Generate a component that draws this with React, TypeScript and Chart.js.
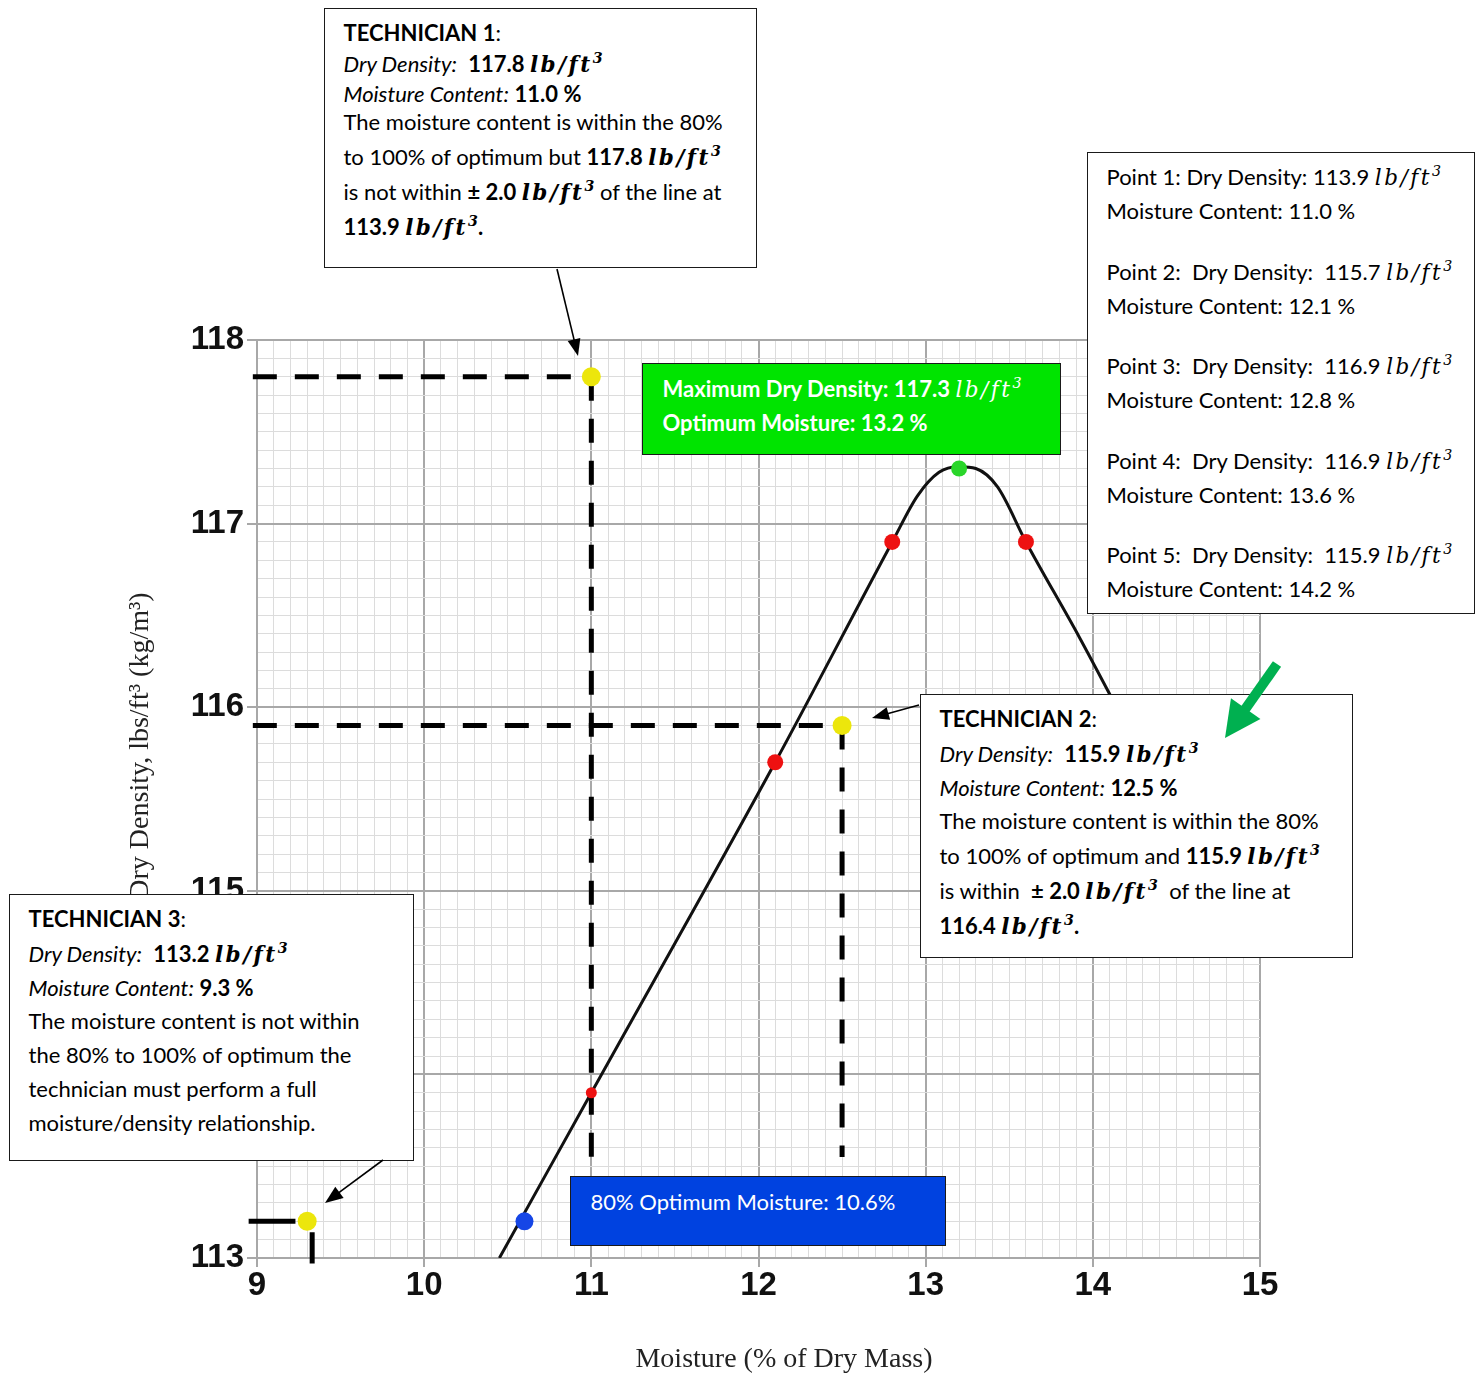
import React, { useEffect, useRef } from 'react';
import { Chart, registerables } from 'chart.js';

Chart.register(...registerables);

// ---------- data ----------
const xMin = 9;
const xMax = 15;
const yMin = 113;
const yMax = 118;

// compaction curve (moisture %, dry density lb/ft3)
const curveMoisture = [10.45, 11.0, 12.1, 12.8, 12.95, 13.08, 13.2, 13.3, 13.43, 13.6, 13.92, 14.2];
const curveDensity = [113.0, 113.9, 115.7, 116.9, 117.15, 117.28, 117.31, 117.3, 117.2, 116.9, 116.38, 115.9];

// proctor points 1..5
const pointMoisture = [11.0, 12.1, 12.8, 13.6, 14.2];
const pointDensity = [113.9, 115.7, 116.9, 116.9, 115.9];

// optimum
const optimumMoisture = [13.2];
const optimumDensity = [117.3];

// 80% of optimum moisture
const eightyMoisture = [10.6];
const eightyDensity = [113.2];

// technicians 1..3
const techMoisture = [11.0, 12.5, 9.3];
const techDensity = [117.8, 115.9, 113.2];

// where the dashed reference lines end
const guideBottom = 113.55;

const isMajor = (v: any) => typeof v === 'number' && Math.abs(v - Math.round(v)) < 1e-6;

const FONT_BODY = 'Lato, "Open Sans", sans-serif';
const FONT_MATH = '"DejaVu Serif", "Liberation Serif", serif';

const Sup = ({ children }: any) => (
  <span style={{ fontSize: '0.66em', verticalAlign: '0.62em', lineHeight: 0, letterSpacing: 0 }}>{children}</span>
);
const Unit = ({ b }: { b?: boolean }) => (
  <span style={{ fontFamily: FONT_MATH, fontStyle: 'italic', fontWeight: b ? 700 : 400, letterSpacing: '2.5px', fontSize: '0.98em' }}>
    lb/ft<Sup>3</Sup>
  </span>
);
const B = ({ children }: any) => <b>{children}</b>;
const I = ({ children }: any) => <i>{children}</i>;

type Line = { y: number; c: any };
const TextBox = ({ left, top, width, height, bg, color, x, lines, size }: any) => (
  <div
    style={{
      position: 'absolute',
      left,
      top,
      width,
      height,
      boxSizing: 'border-box',
      background: bg || '#fff',
      border: '1.5px solid #1a1a1a',
      color: color || '#000',
      fontFamily: FONT_BODY,
      fontSize: size || 22,
    }}
  >
    {lines.map((l: Line, i: number) => (
      <div
        key={i}
        style={{
          position: 'absolute',
          left: x - left - 1.5,
          top: l.y - top - 1.5 - 16,
          height: 32,
          lineHeight: '32px',
          whiteSpace: 'pre',
        }}
      >
        {l.c}
      </div>
    ))}
  </div>
);

function arrowPath(x1: number, y1: number, x2: number, y2: number, headLen: number, headHalf: number) {
  const dx = x2 - x1;
  const dy = y2 - y1;
  const len = Math.hypot(dx, dy);
  const ux = dx / len;
  const uy = dy / len;
  const bx = x2 - ux * headLen;
  const by = y2 - uy * headLen;
  const px = -uy;
  const py = ux;
  return {
    shaft: { x1, y1, x2: bx + ux * 2, y2: by + uy * 2 },
    head: `${x2},${y2} ${bx + px * headHalf},${by + py * headHalf} ${bx - px * headHalf},${by - py * headHalf}`,
  };
}

const Arrow = ({ x1, y1, x2, y2, color, w, hl, hh }: any) => {
  const a = arrowPath(x1, y1, x2, y2, hl, hh);
  return (
    <g>
      <line x1={a.shaft.x1} y1={a.shaft.y1} x2={a.shaft.x2} y2={a.shaft.y2} stroke={color} strokeWidth={w} />
      <polygon points={a.head} fill={color} />
    </g>
  );
};

const axisTitlePlugin = {
  id: 'axisTitles',
  afterDraw(chart: any) {
    const ctx = chart.ctx;
    ctx.save();
    ctx.fillStyle = '#222';
    ctx.font = '28px "Liberation Serif", "DejaVu Serif", serif';
    ctx.textAlign = 'center';
    ctx.textBaseline = 'alphabetic';
    ctx.fillText('Moisture (% of Dry Mass)', 784, 1367);
    ctx.translate(148, 746);
    ctx.rotate(-Math.PI / 2);
    ctx.fillText('Dry Density, lbs/ft³ (kg/m³)', 0, 0);
    ctx.restore();
  },
};

export default function App() {
  const ref = useRef<HTMLCanvasElement>(null);

  useEffect(() => {
    if (!ref.current) return;
    const xy = (xs: number[], ys: number[]) => xs.map((x, i) => ({ x, y: ys[i] }));
    const dashed = {
      showLine: true,
      borderColor: '#000',
      borderWidth: 5,
      borderDash: [24, 18],
      pointRadius: 0,
      clip: false as any,
      order: 5,
    };
    const solid = { showLine: true, borderColor: '#000', borderWidth: 5, pointRadius: 0, clip: false as any, order: 5 };

    const chart = new Chart(ref.current, {
      type: 'scatter',
      data: {
        datasets: [
          {
            label: 'Technicians',
            data: xy(techMoisture, techDensity),
            pointRadius: 9.5,
            pointBackgroundColor: '#ece60c',
            pointBorderWidth: 0,
            order: 0,
          },
          {
            label: 'Proctor points',
            data: xy(pointMoisture, pointDensity),
            pointRadius: [5.5, 8, 8, 8, 8],
            pointBackgroundColor: '#ee1111',
            pointBorderWidth: 0,
            order: 1,
          },
          {
            label: 'Optimum',
            data: xy(optimumMoisture, optimumDensity),
            pointRadius: 8,
            pointBackgroundColor: '#2ad62a',
            pointBorderWidth: 0,
            order: 1,
          },
          {
            label: '80% optimum',
            data: xy(eightyMoisture, eightyDensity),
            pointRadius: 9,
            pointBackgroundColor: '#1646e6',
            pointBorderWidth: 0,
            order: 1,
          },
          {
            label: 'Curve',
            data: xy(curveMoisture, curveDensity),
            showLine: true,
            borderColor: '#111',
            borderWidth: 3,
            pointRadius: 0,
            cubicInterpolationMode: 'monotone',
            order: 4,
          } as any,
          { label: 'T1 h', data: [{ x: xMin - 0.025, y: techDensity[0] }, { x: techMoisture[0], y: techDensity[0] }], ...dashed },
          { label: 'T1 v', data: [{ x: techMoisture[0], y: techDensity[0] }, { x: techMoisture[0], y: guideBottom }], ...dashed },
          { label: 'T2 h', data: [{ x: xMin - 0.025, y: techDensity[1] }, { x: techMoisture[1], y: techDensity[1] }], ...dashed },
          { label: 'T2 v', data: [{ x: techMoisture[1], y: techDensity[1] }, { x: techMoisture[1], y: guideBottom }], ...dashed },
          { label: 'T3 h', data: [{ x: xMin - 0.05, y: techDensity[2] }, { x: techMoisture[2] - 0.07, y: techDensity[2] }], ...solid },
          { label: 'T3 v', data: [{ x: techMoisture[2] + 0.03, y: techDensity[2] - 0.06 }, { x: techMoisture[2] + 0.03, y: yMin - 0.03 }], ...solid },
        ] as any,
      },
      options: {
        animation: false,
        responsive: false,
        devicePixelRatio: 1,
        events: [],
        layout: { padding: { left: 0, top: 340, right: 221, bottom: 0 } },
        plugins: { legend: { display: false }, tooltip: { enabled: false }, title: { display: false } },
        scales: {
          x: {
            type: 'linear',
            min: xMin,
            max: xMax,
            afterFit: (s: any) => {
              s.height = 115;
            },
            border: { display: true, color: '#a8a8a8', width: 2 },
            grid: {
              color: (c: any) => (isMajor(c.tick?.value) ? '#a8a8a8' : '#dcdcdc'),
              lineWidth: (c: any) => (isMajor(c.tick?.value) ? 2 : 1),
              tickColor: (c: any) => (isMajor(c.tick?.value) ? '#a8a8a8' : 'rgba(0,0,0,0)'),
              tickLength: 9,
            },
            ticks: {
              stepSize: 0.1,
              autoSkip: false,
              maxRotation: 0,
              padding: -1,
              color: '#111',
              font: { family: '"Liberation Sans", Arial, sans-serif', size: 33, weight: 'bold' },
              callback: (v: any) => (isMajor(v) ? String(Math.round(v)) : ''),
            },
          },
          y: {
            type: 'linear',
            min: yMin,
            max: yMax,
            afterFit: (s: any) => {
              s.width = 257;
            },
            border: { display: true, color: '#a8a8a8', width: 2 },
            grid: {
              color: (c: any) => (isMajor(c.tick?.value) ? '#a8a8a8' : '#dcdcdc'),
              lineWidth: (c: any) => (isMajor(c.tick?.value) ? 2 : 1),
              tickColor: (c: any) => (isMajor(c.tick?.value) ? '#a8a8a8' : 'rgba(0,0,0,0)'),
              tickLength: 10,
            },
            ticks: {
              stepSize: 0.1,
              autoSkip: false,
              padding: 3,
              color: '#111',
              font: { family: '"Liberation Sans", Arial, sans-serif', size: 33, weight: 'bold' },
              callback: (v: any) => (isMajor(v) ? String(Math.round(v)) : ''),
            },
          },
        },
      } as any,
      plugins: [axisTitlePlugin],
    });
    return () => chart.destroy();
  }, []);

  return (
    <div style={{ position: 'absolute', left: 0, top: 0, width: 1481, height: 1373, background: '#fff', overflow: 'hidden' }}>
      <canvas ref={ref} width={1481} height={1373} style={{ display: 'block', width: 1481, height: 1373 }} />

      <TextBox
        left={324}
        top={8}
        width={433}
        height={260}
        x={344}
        lines={[
          { y: 33, c: <><B>TECHNICIAN 1</B>:</> },
          { y: 64, c: <><I>Dry Density:</I>  <B>117.8 </B><Unit b /></> },
          { y: 94, c: <><I>Moisture Content:</I> <B>11.0 %</B></> },
          { y: 122, c: <>The moisture content is within the 80%</> },
          { y: 157, c: <>to 100% of optimum but <B>117.8 </B><Unit b /></> },
          { y: 192, c: <>is not within <B>± 2.0 </B><Unit b /> of the line at</> },
          { y: 227, c: <><B>113.9 </B><Unit b /><B>.</B></> },
        ]}
      />

      <TextBox
        left={1087}
        top={152}
        width={388}
        height={462}
        x={1107}
        lines={[
          { y: 177, c: <>Point 1: Dry Density: 113.9 <Unit /></> },
          { y: 211, c: <>Moisture Content: 11.0 %</> },
          { y: 272, c: <>Point 2:  Dry Density:  115.7 <Unit /></> },
          { y: 306, c: <>Moisture Content: 12.1 %</> },
          { y: 366, c: <>Point 3:  Dry Density:  116.9 <Unit /></> },
          { y: 400, c: <>Moisture Content: 12.8 %</> },
          { y: 461, c: <>Point 4:  Dry Density:  116.9 <Unit /></> },
          { y: 495, c: <>Moisture Content: 13.6 %</> },
          { y: 555, c: <>Point 5:  Dry Density:  115.9 <Unit /></> },
          { y: 589, c: <>Moisture Content: 14.2 %</> },
        ]}
      />

      <TextBox
        left={642}
        top={363}
        width={419}
        height={92}
        x={663}
        bg="#00e400"
        color="#fff"
        lines={[
          { y: 389, c: <><B>Maximum Dry Density: 117.3 </B><Unit /></> },
          { y: 423, c: <><B>Optimum Moisture: 13.2 %</B></> },
        ]}
      />

      <TextBox
        left={920}
        top={694}
        width={433}
        height={264}
        x={940}
        lines={[
          { y: 719, c: <><B>TECHNICIAN 2</B>:</> },
          { y: 754, c: <><I>Dry Density:</I>  <B>115.9 </B><Unit b /></> },
          { y: 788, c: <><I>Moisture Content:</I> <B>12.5 %</B></> },
          { y: 821, c: <>The moisture content is within the 80%</> },
          { y: 856, c: <>to 100% of optimum and <B>115.9 </B><Unit b /></> },
          { y: 891, c: <>is within  <B>± 2.0 </B><Unit b />  of the line at</> },
          { y: 926, c: <><B>116.4 </B><Unit b /><B>.</B></> },
        ]}
      />

      <TextBox
        left={9}
        top={894}
        width={405}
        height={267}
        x={29}
        lines={[
          { y: 919, c: <><B>TECHNICIAN 3</B>:</> },
          { y: 954, c: <><I>Dry Density:</I>  <B>113.2 </B><Unit b /></> },
          { y: 988, c: <><I>Moisture Content:</I> <B>9.3 %</B></> },
          { y: 1021, c: <>The moisture content is not within</> },
          { y: 1055, c: <>the 80% to 100% of optimum the</> },
          { y: 1089, c: <>technician must perform a full</> },
          { y: 1123, c: <>moisture/density relationship.</> },
        ]}
      />

      <TextBox
        left={570}
        top={1176}
        width={376}
        height={70}
        x={591}
        bg="#0042e0"
        color="#fff"
        lines={[{ y: 1202, c: <>80% Optimum Moisture: 10.6%</> }]}
      />

      <svg width={1481} height={1373} style={{ position: 'absolute', left: 0, top: 0, pointerEvents: 'none' }}>
        <Arrow x1={557} y1={269} x2={578} y2={356} color="#000" w={1.6} hl={17} hh={6.5} />
        <Arrow x1={919} y1={705} x2={872} y2={718} color="#000" w={1.6} hl={17} hh={6.5} />
        <Arrow x1={383} y1={1160} x2={325} y2={1203} color="#000" w={1.6} hl={18} hh={7} />
        <Arrow x1={1277} y1={664} x2={1225} y2={738} color="#00b050" w={10} hl={36} hh={18} />
      </svg>
    </div>
  );
}
